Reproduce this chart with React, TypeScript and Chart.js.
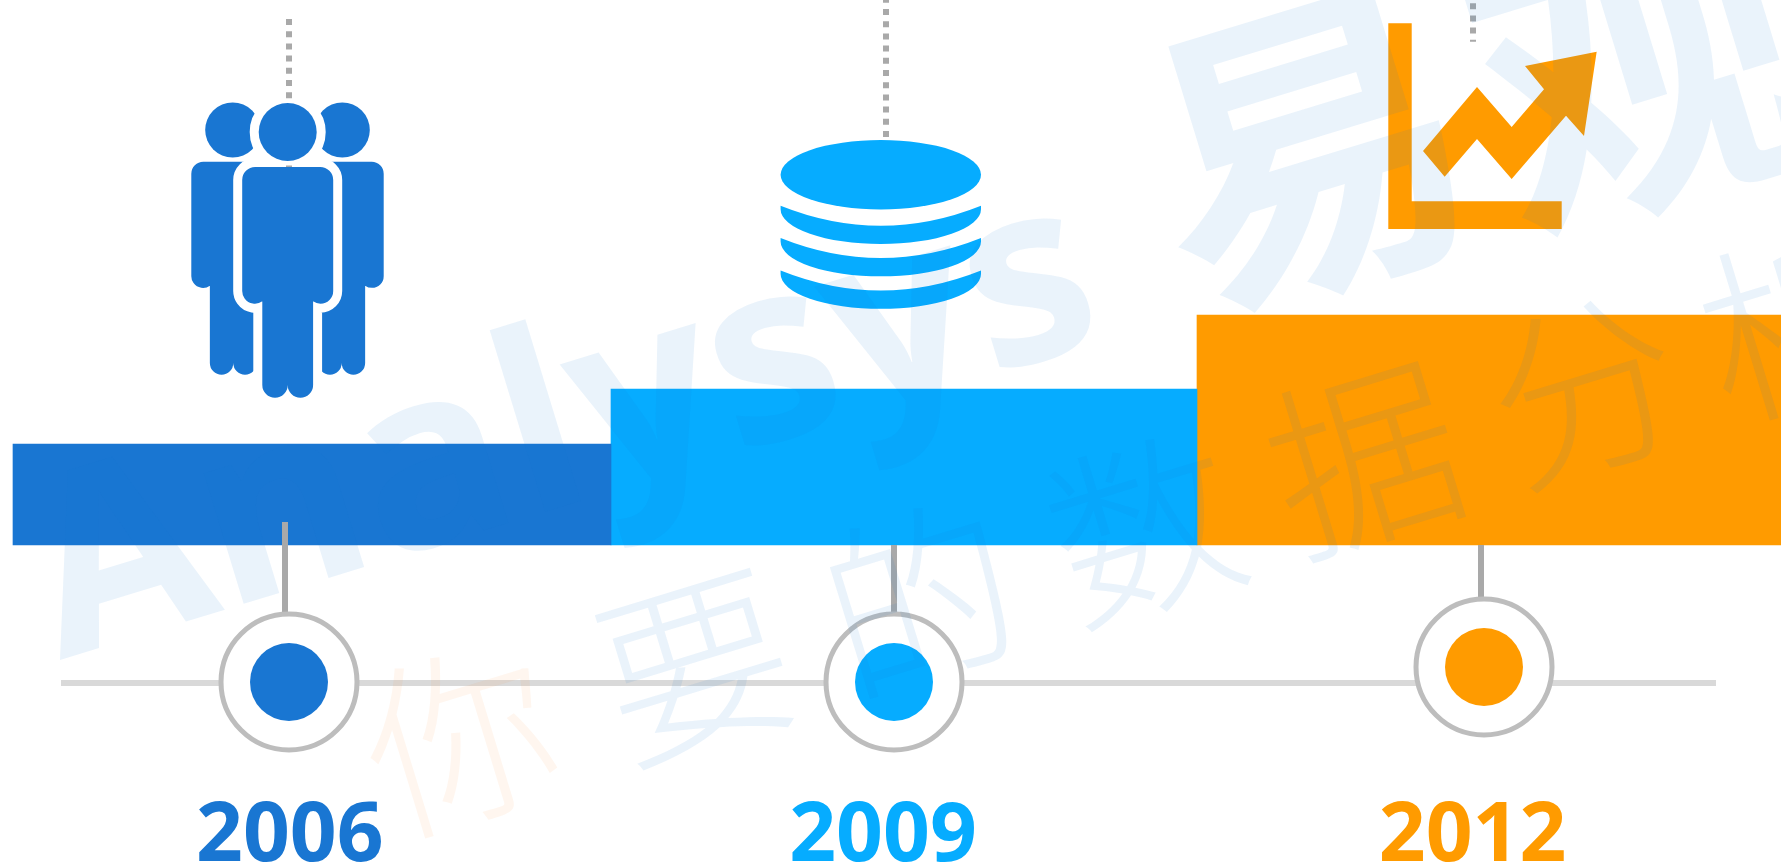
import React, { useEffect, useRef } from "react";
import { Chart, registerables } from "chart.js";

Chart.register(...registerables);

const W = 1781;
const H = 862;
const BASE_PX = 545;

const years = ["2006", "2009", "2012"];
const yearX = [289.8, 883, 1472.6];
const barStart = [13, 611, 1197];
const barEnd = [611, 1197, 1781];
const barHeights = [101, 156, 230];
const ringX = [289, 894, 1484];
const ringY = [-137, -137, -122];
const stemX = [285, 894, 1481];
const stemTop = [23, 0, 0];
const stemBottom = [-69, -69, -54];
const dotLineX = [289, 886, 1473];
const dotLineFrom = [526, 408, 541.8];
const dotLineTo = [374, 545, 503.3];
const timelineX = [61, 1716];
const timelineY = -138;
const colors = ["#1976D2", "#06ACFF", "#FF9B00"];

const wmBlue = "rgba(25,118,210,0.09)";
const wmOrange = "rgba(255,140,50,0.08)";
const phrase = ["你", "要", "的", "数", "据", "分", "析"];
const phraseX = [500, 735, 960, 1185, 1405, 1625, 1835];
const phraseY = [835, 762, 695, 625, 555, 485, 420];

function personPath(ctx: CanvasRenderingContext2D, cx: number, top: number, s: number) {
  const hw = 45.5 * s;
  const r = 13 * s;
  const ar = 12.7 * s;
  const armY = top + 124 * s;
  const legHw = 25.4 * s;
  const footY = top + 218 * s;
  ctx.beginPath();
  ctx.moveTo(cx - hw + r, top);
  ctx.lineTo(cx + hw - r, top);
  ctx.arcTo(cx + hw, top, cx + hw, top + r, r);
  ctx.lineTo(cx + hw, armY);
  ctx.arc(cx + hw - ar, armY, ar, 0, Math.PI * 0.7);
  ctx.lineTo(cx + legHw, top + 134 * s);
  ctx.lineTo(cx + legHw, footY);
  ctx.arc(cx + legHw / 2, footY, legHw / 2, 0, Math.PI);
  ctx.arc(cx - legHw / 2, footY, legHw / 2, 0, Math.PI);
  ctx.lineTo(cx - legHw, top + 134 * s);
  ctx.arc(cx - hw + ar, armY, ar, Math.PI * 0.3, Math.PI);
  ctx.lineTo(cx - hw, top + r);
  ctx.arcTo(cx - hw, top, cx - hw + r, top, r);
  ctx.closePath();
}

function headPath(ctx: CanvasRenderingContext2D, cx: number, cy: number, r: number) {
  ctx.beginPath();
  ctx.arc(cx, cy, r, 0, Math.PI * 2);
  ctx.closePath();
}

function drawBackPeople(ctx: CanvasRenderingContext2D, dx: number) {
  ctx.fillStyle = colors[0];
  for (const off of [-55, 54.6]) {
    const cx = dx + off;
    headPath(ctx, cx, 130, 27.5);
    ctx.fill();
    personPath(ctx, cx + (off < 0 ? 0.6 : -0.6), 161.7, 0.923);
    ctx.fill();
  }
  ctx.strokeStyle = "#fff";
  ctx.fillStyle = "#fff";
  ctx.lineWidth = 18;
  ctx.lineJoin = "round";
  headPath(ctx, dx, 132, 29);
  ctx.fill();
  ctx.stroke();
  personPath(ctx, dx, 167, 1);
  ctx.fill();
  ctx.stroke();
}

function drawFrontPerson(ctx: CanvasRenderingContext2D, dx: number) {
  ctx.fillStyle = colors[0];
  headPath(ctx, dx, 132, 29);
  ctx.fill();
  personPath(ctx, dx, 167, 1);
  ctx.fill();
}

function drawDatabase(ctx: CanvasRenderingContext2D, cx: number) {
  ctx.fillStyle = colors[1];
  const rx = 100.2;
  const ry = 34.7;
  ctx.beginPath();
  ctx.ellipse(cx, 174.7, rx, ry, 0, 0, Math.PI * 2);
  ctx.fill();
  for (const off of [0, 32.3, 64.8]) {
    ctx.beginPath();
    ctx.moveTo(cx - rx, 205.7 + off);
    ctx.quadraticCurveTo(cx, 245.7 + off, cx + rx, 205.7 + off);
    ctx.lineTo(cx + rx, 209.3 + off);
    ctx.ellipse(cx, 209.3 + off, rx, ry, 0, 0, Math.PI);
    ctx.closePath();
    ctx.fill();
  }
}

function drawGrowth(ctx: CanvasRenderingContext2D, ox: number) {
  ctx.fillStyle = colors[2];
  ctx.beginPath();
  const l: [number, number][] = [[0, 23.3], [23.4, 23.3], [23.4, 201.3], [173.4, 201.3], [173.4, 229], [0, 229]];
  l.forEach(([x, y], i) => (i ? ctx.lineTo(ox + x, y) : ctx.moveTo(ox + x, y)));
  ctx.closePath();
  ctx.fill();
  const a: [number, number][] = [[189, 453], [351, 261], [455, 381], [552, 268], [495, 198], [710, 155], [672, 408], [618, 347], [455, 537], [351, 417], [254, 530]];
  ctx.beginPath();
  a.forEach(([x, y], i) => {
    const px = ox - 28.3 + x / 3;
    const py = y / 3;
    if (i) ctx.lineTo(px, py);
    else ctx.moveTo(px, py);
  });
  ctx.closePath();
  ctx.fill();
}

const decorations = {
  id: "decorations",
  beforeDatasetsDraw(chart: any) {
    drawBackPeople(chart.ctx, chart.scales.x.getPixelForValue(287.7));
  },
  afterDatasetsDraw(chart: any) {
    const { ctx, scales } = chart;
    drawFrontPerson(ctx, scales.x.getPixelForValue(287.7));
    drawDatabase(ctx, scales.x.getPixelForValue(880.8));
    drawGrowth(ctx, scales.x.getPixelForValue(1388.3));
    ctx.save();
    ctx.font = "bold 82px 'Open Sans'";
    ctx.textAlign = "center";
    ctx.textBaseline = "alphabetic";
    years.forEach((y, i) => {
      ctx.fillStyle = colors[i];
      ctx.fillText(y, scales.x.getPixelForValue(yearX[i]), 861);
    });
    ctx.restore();
  },
  afterDraw(chart: any) {
    const { ctx } = chart;
    ctx.save();
    const ang = (-17 * Math.PI) / 180;
    const put = (t: string, x: number, y: number, font: string, color: string) => {
      ctx.save();
      ctx.translate(x, y);
      ctx.rotate(ang);
      ctx.font = font;
      ctx.fillStyle = color;
      ctx.textAlign = "left";
      ctx.textBaseline = "alphabetic";
      ctx.fillText(t, 0, 0);
      ctx.restore();
    };
    put("Analysys", 60, 660, "bold 250px 'Open Sans'", wmBlue);
    put("易", 1190, 310, "bold 320px 'Noto Sans CJK SC'", wmBlue);
    put("观", 1520, 230, "bold 320px 'Noto Sans CJK SC'", wmBlue);
    phrase.forEach((c, i) => {
      put(c, phraseX[i] - 110, phraseY[i], "200 190px 'Noto Sans CJK SC'", i === 0 ? wmOrange : wmBlue);
    });
    ctx.restore();
  },
};

export default function App() {
  const ref = useRef<HTMLCanvasElement | null>(null);
  useEffect(() => {
    document.body.style.margin = "0";
    document.body.style.overflow = "hidden";
    const bars = barHeights.map((h, i) => ({
      type: "bar",
      data: [{ x: (barStart[i] + barEnd[i]) / 2, y: h }],
      backgroundColor: colors[i],
      barThickness: barEnd[i] - barStart[i],
      grouped: false,
      order: 20,
    }));
    const stems = stemX.map((x, i) => ({
      type: "line",
      data: [{ x, y: stemTop[i] }, { x, y: stemBottom[i] }],
      borderColor: "#A9A9A9",
      borderWidth: 6,
      pointRadius: 0,
      order: 18,
    }));
    const dotted = dotLineX.map((x, i) => ({
      type: "line",
      data: [{ x, y: dotLineFrom[i] }, { x, y: dotLineTo[i] }],
      borderColor: "#A9A9A9",
      borderWidth: 6,
      borderDash: [6, 6.2],
      pointRadius: 0,
      order: 17,
    }));
    const timeline = {
      type: "line",
      data: timelineX.map((x) => ({ x, y: timelineY })),
      borderColor: "#D9D9D9",
      borderWidth: 6,
      pointRadius: 0,
      order: 19,
    };
    const rings = {
      type: "scatter",
      data: ringX.map((x, i) => ({ x, y: ringY[i] })),
      backgroundColor: "#FFFFFF",
      borderColor: "#BDBDBD",
      borderWidth: 5,
      pointRadius: 68,
      order: 5,
    };
    const dots = {
      type: "scatter",
      data: ringX.map((x, i) => ({ x, y: ringY[i] })),
      backgroundColor: colors,
      borderWidth: 0,
      pointRadius: 39,
      order: 4,
    };
    const chart = new Chart(ref.current as HTMLCanvasElement, {
      type: "bar",
      data: { datasets: [...bars, timeline, ...stems, ...dotted, rings, dots] as any },
      options: {
        animation: false,
        responsive: false,
        devicePixelRatio: 1,
        events: [],
        layout: { padding: 0, autoPadding: false },
        plugins: { legend: { display: false }, tooltip: { enabled: false }, title: { display: false } },
        scales: {
          x: { type: "linear", min: 0, max: W, display: false, offset: false },
          y: { type: "linear", min: BASE_PX - H, max: BASE_PX, display: false },
        },
      } as any,
      plugins: [decorations as any],
    });
    return () => chart.destroy();
  }, []);
  return (
    <div style={{ position: "fixed", left: 0, top: 0, width: W, height: H, background: "#fff" }}>
      <canvas ref={ref} width={W} height={H} style={{ display: "block" }} />
    </div>
  );
}
